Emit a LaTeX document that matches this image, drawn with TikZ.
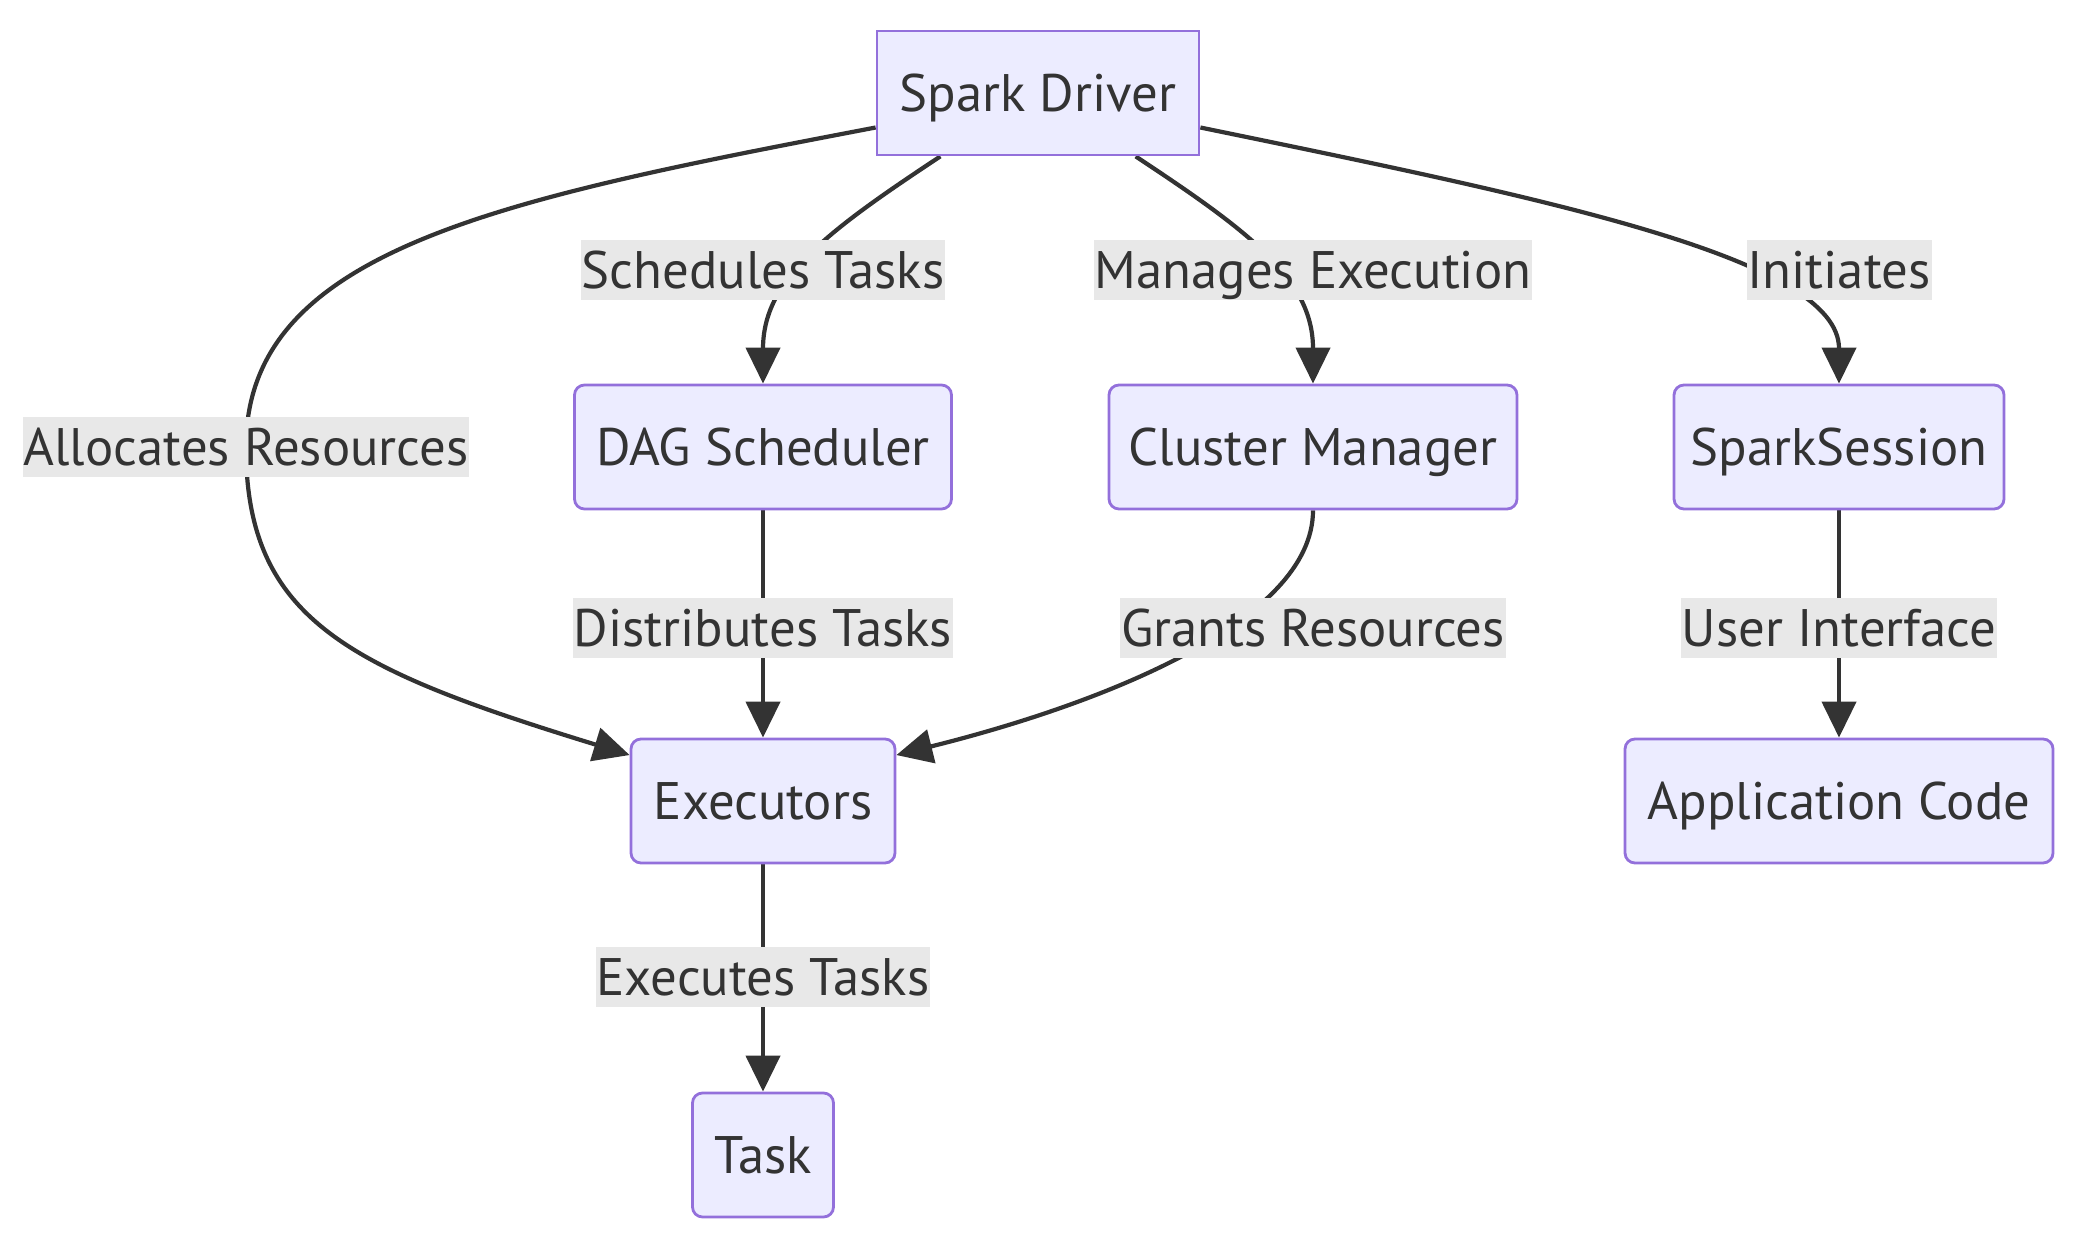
\documentclass[tikz,border=0pt]{standalone}
\usepackage{fontspec}
\setmainfont{PT Sans}
\usepackage{xcolor}
\usepackage{tikz}
\usetikzlibrary{arrows.meta,backgrounds,positioning,calc}
\definecolor{nodefill}{HTML}{ECECFF}
\definecolor{nodeline}{HTML}{9370DB}
\definecolor{ink}{HTML}{333333}
\definecolor{lblfill}{HTML}{E8E8E8}
\tikzset{
  box/.style={draw=nodeline, fill=nodefill, line width=1.4pt, rounded corners=5pt,
    minimum height=62pt, inner sep=0pt, text=ink, text height=18.5pt, text depth=0pt,
    font=\fontsize{26.4}{31}\selectfont},
  sharpbox/.style={box, sharp corners},
  lbl/.style={fill=lblfill, text=ink, inner xsep=0.5pt, inner ysep=0pt, minimum height=30pt,
    text height=18.5pt, text depth=0pt, font=\fontsize{26.4}{31}\selectfont},
  flow/.style={draw=ink, line width=2.1pt, -{Triangle[length=18pt,width=17pt]}},
}

\begin{document}
\begin{tikzpicture}[x=0.5pt,y=-0.5pt]
    \useasboundingbox (0,0) rectangle (2076,1256);

    \node[sharpbox, minimum width=161pt] at (1038,93) (driver) {Spark Driver};
    \node[box, minimum width=188.5pt] at (763,447) (dag) {DAG Scheduler};
    \node[box, minimum width=204pt] at (1313,447) (cluster) {Cluster Manager};
    \node[box, minimum width=165pt] at (1839,447) (session) {SparkSession};
    \node[box, minimum width=132pt] at (763,801) (exec) {Executors};
    \node[box, minimum width=214pt] at (1839,801) (app) {Application Code};
    \node[box, minimum width=70.5pt] at (763,1155) (task) {Task};

    % edge labels
    \node[lbl] at (246,447) (alloc) {Allocates Resources};
    \node[lbl] at (763,270) (sched) {Schedules Tasks};
    \node[lbl] at (1313,270) (manage) {Manages Execution};
    \node[lbl] at (1839,270) (init) {Initiates};
    \node[lbl] at (763,628) (distr) {Distributes Tasks};
    \node[lbl] at (1313,628) (grant) {Grants Resources};
    \node[lbl] at (1839,628) (ui) {User Interface};
    \node[lbl] at (763,977) (run) {Executes Tasks};

    \begin{pgfonlayer}{background}
    \draw[flow] (driver.192) .. controls +(-377,72) and +(0,-197) .. (alloc.center)
        .. controls +(0,173) and +(-280,-86) .. (exec.161);
    \draw[flow] (driver.213) .. controls +(-112,74) and +(0,-105) .. (dag.north);
    \draw[flow] (driver.327) .. controls +(112,74) and +(0,-105) .. (cluster.north);
    \draw[flow] (driver.348) .. controls +(350,72) and +(0,-125) .. (session.north);
    \draw[flow] (dag) -- (exec);
    \draw[flow] (cluster.south) .. controls +(0,111) and +(205,-51) .. (exec.19);
    \draw[flow] (session) -- (app);
    \draw[flow] (exec) -- (task);
    \end{pgfonlayer}
\end{tikzpicture}
\end{document}
